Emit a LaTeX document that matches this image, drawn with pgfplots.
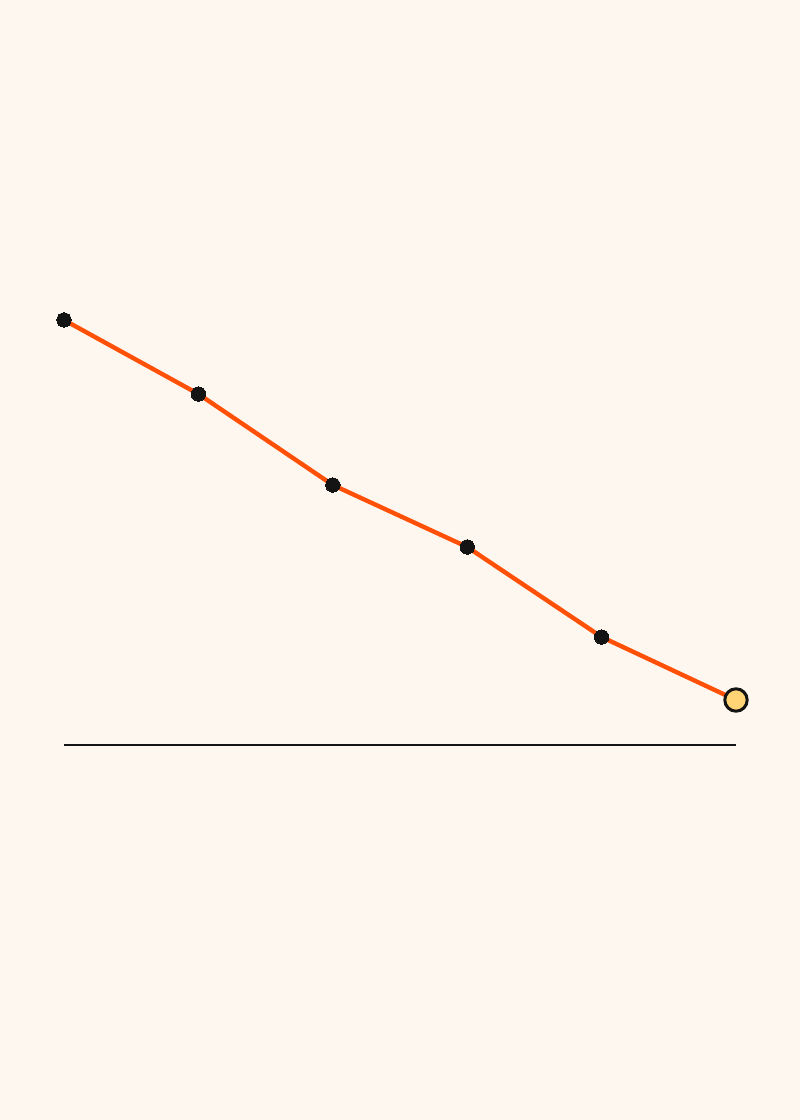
\documentclass[border=0pt]{standalone}
\usepackage{pgfplots}
\pgfplotsset{compat=1.18}
\definecolor{bgcream}{HTML}{FEF7F0}
\definecolor{lineorange}{HTML}{FF5008}
\definecolor{dotblack}{HTML}{141414}
\definecolor{lastyellow}{HTML}{FFD474}
\begin{document}
\begin{tikzpicture}
\fill[bgcream] (0,0) rectangle (400pt,560pt);
\begin{axis}[
    at={(32pt,187.5pt)}, anchor=south west,
    scale only axis,
    width=336pt, height=372.5pt,
    xmin=0, xmax=5, ymin=0, ymax=745,
    hide axis, clip=false,
]
% baseline
\addplot[dotblack, line width=1.2pt, mark=none] coordinates {(0,0) (5,0)};
% series
\addplot[lineorange, line width=2.2pt, mark=*,
    mark options={dotblack, fill=dotblack, line width=0pt, mark size=3.6pt}]
    coordinates {(0,425) (1,351) (2,260) (3,198) (4,108) (5,45)};
% highlighted last point
\addplot[only marks, mark=*,
    mark options={draw=dotblack, fill=lastyellow, line width=1.5pt, mark size=5.6pt}]
    coordinates {(5,45)};
\end{axis}
\end{tikzpicture}
\end{document}
